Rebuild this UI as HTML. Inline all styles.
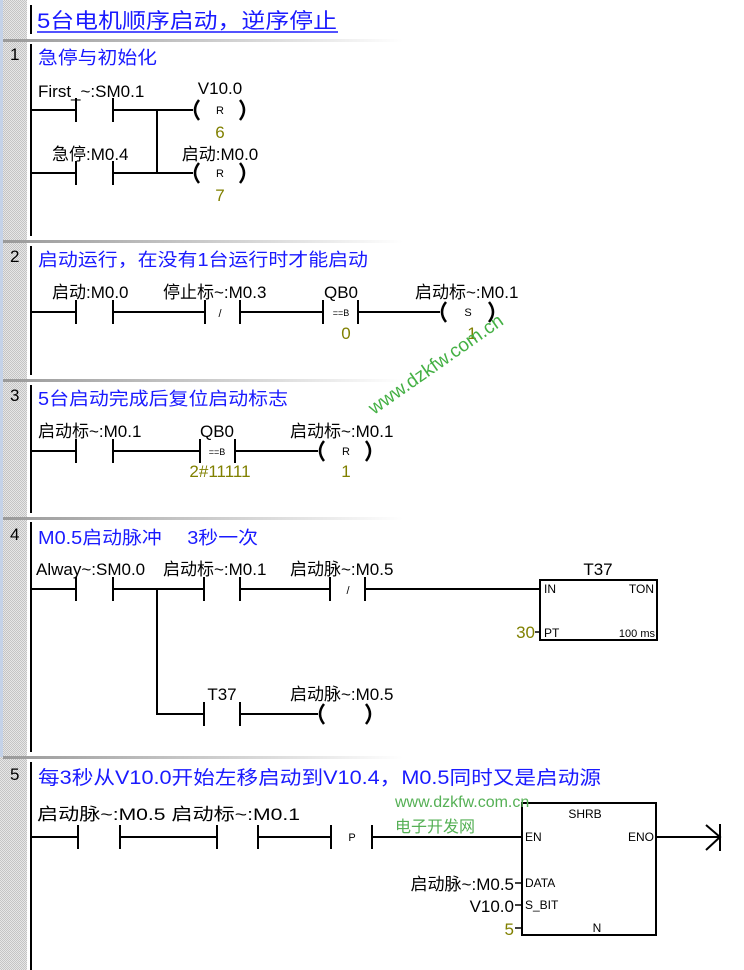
<!DOCTYPE html>
<html><head><meta charset="utf-8"><style>
html,body{margin:0;padding:0;background:#fff;}
svg{display:block;}
text{font-family:"Liberation Sans","Noto Sans CJK SC",sans-serif;}
.l{font-size:17px;fill:#000;}
.c{font-size:18px;fill:#1a1aff;}
.o{font-size:17px;fill:#808000;}
.s{font-size:11px;fill:#000;}
.w{stroke:#000;stroke-width:2;fill:none;}
.p{stroke:#000;stroke-width:2.5;fill:none;}
.b{stroke:#000;stroke-width:2;}
</style></head><body>
<svg width="744" height="970" viewBox="0 0 744 970" xmlns="http://www.w3.org/2000/svg">
<defs>
<pattern id="ck" width="2" height="2" patternUnits="userSpaceOnUse">
<rect width="2" height="2" fill="#e6e6e6"/><rect width="1" height="1" fill="#c4c4c4"/><rect x="1" y="1" width="1" height="1" fill="#c4c4c4"/>
</pattern>
<linearGradient id="sep" x1="0" x2="1"><stop offset="0" stop-color="#999"/><stop offset="0.6" stop-color="#d4d4d4"/><stop offset="1" stop-color="#fff"/></linearGradient>
</defs>
<rect x="0" y="0" width="27" height="970" fill="url(#ck)"/>
<rect x="0" y="0" width="3" height="757" fill="#c4d2e8"/>
<rect x="3" y="39" width="400" height="3" fill="url(#sep)"/>
<rect x="3" y="240" width="400" height="3" fill="url(#sep)"/>
<rect x="3" y="379" width="400" height="3" fill="url(#sep)"/>
<rect x="3" y="517" width="400" height="3" fill="url(#sep)"/>
<rect x="3" y="756" width="400" height="3" fill="url(#sep)"/>
<line x1="31" y1="5" x2="31" y2="34" class="b" stroke-width="3"/>
<line x1="31" y1="44" x2="31" y2="236" class="b" stroke-width="3"/>
<line x1="31" y1="246" x2="31" y2="375" class="b" stroke-width="3"/>
<line x1="31" y1="385" x2="31" y2="513" class="b" stroke-width="3"/>
<line x1="31" y1="522" x2="31" y2="752" class="b" stroke-width="3"/>
<line x1="31" y1="762" x2="31" y2="970" class="b" stroke-width="3"/>

<text x="37" y="28" font-size="21" fill="#1a1aff" textLength="300" lengthAdjust="spacingAndGlyphs">5台电机顺序启动，逆序停止</text>
<line x1="37" y1="32" x2="338" y2="32" stroke="#1a1aff" stroke-width="1.5"/>

<!-- Net 1 -->
<text x="10" y="60" class="l" font-size="15">1</text>
<text x="38" y="64" class="c" textLength="119" lengthAdjust="spacingAndGlyphs">急停与初始化</text>
<text x="38" y="97" class="l">First_~:SM0.1</text>
<text x="220" y="94" class="l" text-anchor="middle">V10.0</text>
<text x="52" y="160" class="l">急停:M0.4</text>
<text x="220" y="160" class="l" text-anchor="middle">启动:M0.0</text>
<path class="w" d="M31 110H76M113 110H193M157 110V173M31 173H76M113 173H193"/>
<path class="b" d="M76 98V122M113 98V122M76 161V185M113 161V185"/>
<path class="p" d="M199 100Q191 110 199 120M240 100Q248 110 240 120M199 163Q191 173 199 183M240 163Q248 173 240 183"/>
<text x="220" y="114" class="s" text-anchor="middle">R</text>
<text x="220" y="177" class="s" text-anchor="middle">R</text>
<text x="220" y="138" class="o" text-anchor="middle">6</text>
<text x="220" y="201" class="o" text-anchor="middle">7</text>

<!-- Net 2 -->
<text x="10" y="262" class="l" font-size="15">2</text>
<text x="38" y="266" class="c" textLength="330" lengthAdjust="spacingAndGlyphs">启动运行，在没有1台运行时才能启动</text>
<text x="52" y="298" class="l">启动:M0.0</text>
<text x="163" y="298" class="l">停止标~:M0.3</text>
<text x="341" y="298" class="l" text-anchor="middle">QB0</text>
<text x="415" y="298" class="l">启动标~:M0.1</text>
<path class="w" d="M31 312H76M113 312H205M240 312H323M358 312H440"/>
<path class="b" d="M76 300V324M113 300V324M205 300V324M240 300V324M323 300V324M358 300V324"/>
<text x="220" y="317" class="s" text-anchor="middle">/</text>
<text x="341" y="316" font-size="9" text-anchor="middle" fill="#000">==B</text>
<path class="p" d="M446 302Q438 312 446 322M489 302Q497 312 489 322"/>
<text x="468" y="316" class="s" text-anchor="middle">S</text>
<text x="346" y="339" class="o" text-anchor="middle">0</text>
<text x="472" y="339" class="o" text-anchor="middle">1</text>

<!-- Net 3 -->
<text x="10" y="401" class="l" font-size="15">3</text>
<text x="38" y="405" class="c" textLength="250" lengthAdjust="spacingAndGlyphs">5台启动完成后复位启动标志</text>
<text x="38" y="437" class="l">启动标~:M0.1</text>
<text x="217" y="437" class="l" text-anchor="middle">QB0</text>
<text x="290" y="437" class="l">启动标~:M0.1</text>
<path class="w" d="M31 451H76M113 451H200M235 451H318"/>
<path class="b" d="M76 439V463M113 439V463M200 439V463M235 439V463"/>
<text x="217" y="455" font-size="9" text-anchor="middle" fill="#000">==B</text>
<path class="p" d="M324 441Q316 451 324 461M366 441Q374 451 366 461"/>
<text x="346" y="455" class="s" text-anchor="middle">R</text>
<text x="220" y="477" class="o" text-anchor="middle">2#11111</text>
<text x="346" y="477" class="o" text-anchor="middle">1</text>

<!-- Net 4 -->
<text x="10" y="540" class="l" font-size="15">4</text>
<text x="38" y="544" class="c" textLength="220" lengthAdjust="spacingAndGlyphs">M0.5启动脉冲　 3秒一次</text>
<text x="36" y="575" class="l">Alway~:SM0.0</text>
<text x="163" y="575" class="l">启动标~:M0.1</text>
<text x="290" y="575" class="l">启动脉~:M0.5</text>
<text x="598" y="575" class="l" text-anchor="middle">T37</text>
<path class="w" d="M31 589H76M113 589H204M240 589H330M365 589H540M157 589V714H204M240 714H318"/>
<path class="b" d="M76 577V601M113 577V601M204 577V601M240 577V601M330 577V601M365 577V601M204 702V726M240 702V726"/>
<text x="348" y="594" class="s" text-anchor="middle">/</text>
<rect x="540" y="580" width="117" height="60" class="w"/>
<text x="544" y="593" font-size="12">IN</text>
<text x="654" y="593" font-size="12" text-anchor="end">TON</text>
<text x="544" y="637" font-size="12">PT</text>
<text x="655" y="637" font-size="11" text-anchor="end">100 ms</text>
<line x1="535" y1="632" x2="540" y2="632" stroke="#000" stroke-width="1.5"/>
<text x="535" y="638" class="o" text-anchor="end" font-size="18">30</text>
<text x="222" y="700" class="l" text-anchor="middle">T37</text>
<text x="290" y="700" class="l">启动脉~:M0.5</text>
<path class="p" d="M324 704Q316 714 324 724M366 704Q374 714 366 724"/>

<!-- Net 5 -->
<text x="10" y="780" class="l" font-size="15">5</text>
<text x="38" y="784" font-size="19" fill="#1a1aff" textLength="563" lengthAdjust="spacingAndGlyphs">每3秒从V10.0开始左移启动到V10.4，M0.5同时又是启动源</text>
<text x="37" y="820" class="l" textLength="263" lengthAdjust="spacingAndGlyphs">启动脉~:M0.5 启动标~:M0.1</text>
<path class="w" d="M31 837H78M120 837H217M258 837H331M372 837H522M657 837H720"/>
<path class="b" d="M78 825V849M120 825V849M217 825V849M258 825V849M331 825V849M372 825V849"/>
<text x="352" y="841" class="s" text-anchor="middle">P</text>
<rect x="522" y="803" width="134" height="132" class="w"/>
<text x="585" y="818" font-size="12" text-anchor="middle">SHRB</text>
<text x="525" y="841" font-size="12">EN</text>
<text x="654" y="841" font-size="12" text-anchor="end">ENO</text>
<text x="525" y="887" font-size="12">DATA</text>
<text x="525" y="909" font-size="12">S_BIT</text>
<text x="597" y="932" font-size="12" text-anchor="middle">N</text>
<path class="w" d="M706 825L720 837L706 850M720 824V851"/>
<path stroke="#000" stroke-width="1.5" d="M515 883H521M515 905H521M515 928H521"/>
<text x="514" y="890" class="l" text-anchor="end">启动脉~:M0.5</text>
<text x="514" y="912" class="l" text-anchor="end">V10.0</text>
<text x="514" y="935" class="o" text-anchor="end" font-size="18">5</text>

<text x="0" y="0" font-size="19" fill="#44b044" transform="translate(374,415) rotate(-35)">www.dzkfw.com.cn</text>
<text x="395" y="807" font-size="16" fill="#55b055">www.dzkfw.com.cn</text>
<text x="395" y="832" font-size="16" fill="#55b055">电子开发网</text>
</svg>
</body></html>
